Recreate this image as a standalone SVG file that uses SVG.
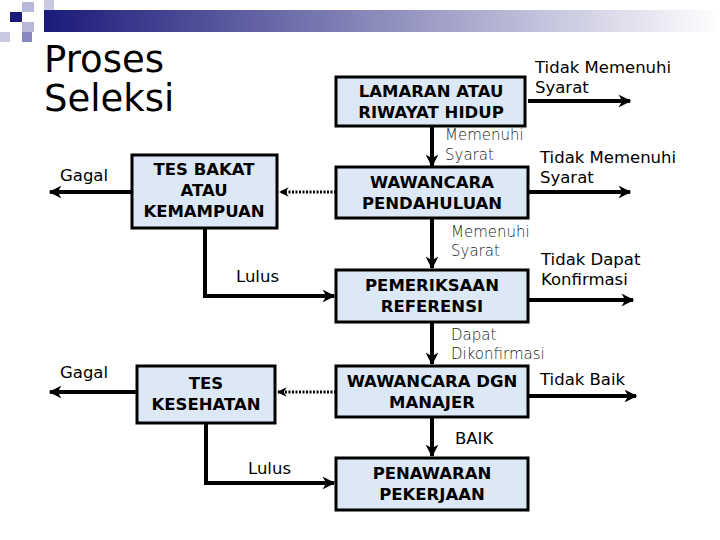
<svg xmlns="http://www.w3.org/2000/svg" width="720" height="540" viewBox="0 0 720 540">
<defs>
<linearGradient id="bar" x1="0" x2="1" y1="0" y2="0"><stop offset="0" stop-color="#1a1a7a"/><stop offset="1" stop-color="#ffffff"/></linearGradient>
<marker id="ah" viewBox="0 0 10 10" refX="9" refY="5" markerWidth="3.2" markerHeight="3.2" orient="auto"><path d="M0,0 L10,5 L0,10 L3,5 z" fill="#000"/></marker>
<style>
.box{fill:#dce8f5;stroke:#000;stroke-width:3}
.bt{font-family:"DejaVu Sans",sans-serif;font-weight:bold;font-size:16.5px;text-anchor:middle}
.lb{font-family:"DejaVu Sans",sans-serif;font-size:16.5px}
.sm{font-family:"DejaVu Sans",sans-serif;font-size:15px;fill:#222;font-weight:200}
.ln{stroke:#000;stroke-width:4;fill:none}
.ar{stroke:#000;stroke-width:4;fill:none;marker-end:url(#ah)}
.dt{stroke:#000;stroke-width:3;fill:none;stroke-dasharray:2,1.5;marker-end:url(#ah)}
</style>
</defs>
<rect width="720" height="540" fill="#fff"/>
<g id="header">
<rect x="44" y="10" width="676" height="22" fill="url(#bar)"/>
<rect x="10" y="12" width="12" height="10" fill="#1a1a7a"/>
<rect x="22" y="2" width="12" height="10" fill="#b8b8d8"/>
<rect x="22" y="22" width="12" height="10" fill="#b8b8d8"/>
<rect x="0" y="32" width="10" height="10" fill="#c8c8e0"/>
<rect x="22" y="32" width="10" height="10" fill="#8888c0"/>
<rect x="44" y="0" width="10" height="10" fill="#c8c8e0"/>
</g>
<g id="title"><text x="44" y="72" font-family="DejaVu Sans, sans-serif" font-size="37">Proses</text><text x="44" y="111" font-family="DejaVu Sans, sans-serif" font-size="37">Seleksi</text></g>
<g id="connectors">
<path class="ar" d="M528,101 H630"/>
<path class="ar" d="M432,126 V166"/>
<path class="ar" d="M528,192 H630"/>
<path class="ar" d="M432,218 V268"/>
<path class="ar" d="M528,300 H633"/>
<path class="ar" d="M432,322 V364"/>
<path class="ar" d="M528,396 H636"/>
<path class="ar" d="M432,417 V456"/>
<path class="dt" d="M336,192 H280"/>
<path class="dt" d="M336,392 H278"/>
<path class="ar" d="M132,192 H50"/>
<path class="ar" d="M137,392 H50"/>
<path class="ar" d="M205,228 V296 H334"/>
<path class="ar" d="M206,423 V483 H334"/>
</g>
<g id="n-lamaran"><rect class="box" x="336" y="77" width="189" height="49"/><text class="bt" x="431" y="97">LAMARAN ATAU</text><text class="bt" x="431" y="118">RIWAYAT HIDUP</text></g>
<g id="n-wawancara1"><rect class="box" x="336" y="167" width="192" height="51"/><text class="bt" x="432" y="188">WAWANCARA</text><text class="bt" x="432" y="209">PENDAHULUAN</text></g>
<g id="n-pemeriksaan"><rect class="box" x="336" y="270" width="192" height="52"/><text class="bt" x="432" y="291">PEMERIKSAAN</text><text class="bt" x="432" y="312">REFERENSI</text></g>
<g id="n-wawancara2"><rect class="box" x="336" y="366" width="192" height="51"/><text class="bt" x="432" y="387">WAWANCARA DGN</text><text class="bt" x="432" y="408">MANAJER</text></g>
<g id="n-penawaran"><rect class="box" x="336" y="458" width="192" height="52"/><text class="bt" x="432" y="479">PENAWARAN</text><text class="bt" x="432" y="500">PEKERJAAN</text></g>
<g id="n-tesbakat"><rect class="box" x="132" y="155" width="145" height="73"/><text class="bt" x="204" y="175">TES BAKAT</text><text class="bt" x="204" y="196">ATAU</text><text class="bt" x="204" y="217">KEMAMPUAN</text></g>
<g id="n-teskesehatan"><rect class="box" x="137" y="366" width="138" height="57"/><text class="bt" x="206" y="389">TES</text><text class="bt" x="206" y="410">KESEHATAN</text></g>
<g id="labels">
<text class="lb" x="535" y="73">Tidak Memenuhi</text><text class="lb" x="535" y="93">Syarat</text>
<text class="lb" x="540" y="163">Tidak Memenuhi</text><text class="lb" x="540" y="183">Syarat</text>
<text class="lb" x="541" y="265">Tidak Dapat</text><text class="lb" x="541" y="285">Konfirmasi</text>
<text class="lb" x="540" y="385">Tidak Baik</text>
<text class="lb" x="455" y="444">BAIK</text>
<text class="sm" x="445" y="140">Memenuhi</text><text class="sm" x="445" y="160">Syarat</text>
<text class="sm" x="451" y="237">Memenuhi</text><text class="sm" x="451" y="256">Syarat</text>
<text class="sm" x="451" y="340">Dapat</text><text class="sm" x="451" y="359">Dikonfirmasi</text>
<text class="lb" x="60" y="181">Gagal</text>
<text class="lb" x="60" y="378">Gagal</text>
<text class="lb" x="236" y="282">Lulus</text>
<text class="lb" x="248" y="474">Lulus</text>
</g>
</svg>
